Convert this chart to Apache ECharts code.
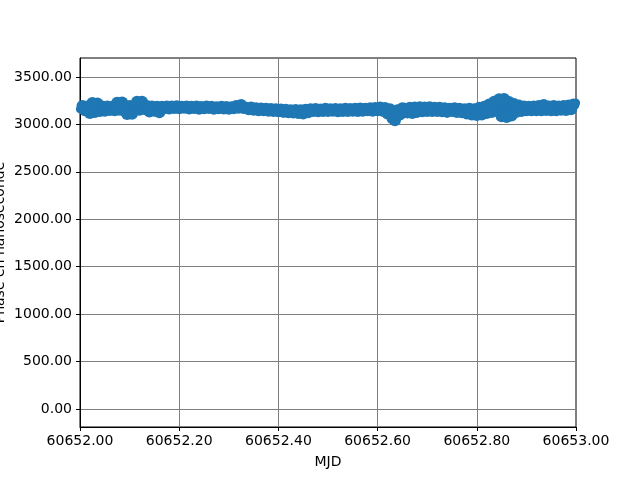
<!DOCTYPE html>
<html>
<head>
<meta charset="utf-8">
<script src="https://cdn.jsdelivr.net/npm/echarts@6/dist/echarts.min.js"></script>
<style>html,body{margin:0;padding:0;background:#fff}#c{width:640px;height:480px}</style>
</head>
<body>
<div id="c"></div>
<script>
var mjd = [
60652.000,60652.005,60652.010,60652.015,60652.020,60652.025,60652.030,60652.035,60652.040,60652.045,
60652.050,60652.055,60652.060,60652.065,60652.070,60652.075,60652.080,60652.085,60652.090,60652.095,
60652.100,60652.105,60652.110,60652.115,60652.120,60652.125,60652.130,60652.135,60652.140,60652.145,
60652.150,60652.155,60652.160,60652.165,60652.170,60652.175,60652.180,60652.185,60652.190,60652.195,
60652.200,60652.205,60652.210,60652.215,60652.220,60652.225,60652.230,60652.235,60652.240,60652.245,
60652.250,60652.255,60652.260,60652.265,60652.270,60652.275,60652.280,60652.285,60652.290,60652.295,
60652.300,60652.305,60652.310,60652.315,60652.320,60652.325,60652.330,60652.335,60652.340,60652.345,
60652.350,60652.355,60652.360,60652.365,60652.370,60652.375,60652.380,60652.385,60652.390,60652.395,
60652.400,60652.405,60652.410,60652.415,60652.420,60652.425,60652.430,60652.435,60652.440,60652.445,
60652.450,60652.455,60652.460,60652.465,60652.470,60652.475,60652.480,60652.485,60652.490,60652.495,
60652.500,60652.505,60652.510,60652.515,60652.520,60652.525,60652.530,60652.535,60652.540,60652.545,
60652.550,60652.555,60652.560,60652.565,60652.570,60652.575,60652.580,60652.585,60652.590,60652.595,
60652.600,60652.605,60652.610,60652.615,60652.620,60652.625,60652.630,60652.635,60652.640,60652.645,
60652.650,60652.655,60652.660,60652.665,60652.670,60652.675,60652.680,60652.685,60652.690,60652.695,
60652.700,60652.705,60652.710,60652.715,60652.720,60652.725,60652.730,60652.735,60652.740,60652.745,
60652.750,60652.755,60652.760,60652.765,60652.770,60652.775,60652.780,60652.785,60652.790,60652.795,
60652.800,60652.805,60652.810,60652.815,60652.820,60652.825,60652.830,60652.835,60652.840,60652.845,
60652.850,60652.855,60652.860,60652.865,60652.870,60652.875,60652.880,60652.885,60652.890,60652.895,
60652.900,60652.905,60652.910,60652.915,60652.920,60652.925,60652.930,60652.935,60652.940,60652.945,
60652.950,60652.955,60652.960,60652.965,60652.970,60652.975,60652.980,60652.985,60652.990,60652.995,
60653.000
];
var phase = [
3160,3195,3150,3190,3120,3225,3130,3220,3140,3190,
3145,3188,3152,3185,3148,3228,3155,3232,3145,3110,
3195,3112,3188,3238,3155,3240,3162,3195,3135,3190,
3145,3186,3128,3185,3170,3190,3168,3188,3172,3192,
3170,3185,3175,3190,3168,3186,3172,3188,3166,3184,
3170,3190,3172,3185,3165,3182,3170,3186,3168,3183,
3166,3180,3170,3195,3175,3205,3172,3175,3160,3178,
3155,3170,3150,3168,3148,3165,3145,3162,3140,3160,
3138,3158,3132,3155,3128,3150,3125,3152,3120,3150,
3115,3155,3128,3160,3140,3162,3138,3158,3142,3165,
3140,3160,3145,3163,3138,3160,3142,3165,3140,3162,
3145,3166,3142,3168,3145,3165,3148,3170,3145,3172,
3150,3178,3145,3172,3115,3160,3065,3045,3150,3105,
3170,3165,3125,3175,3120,3178,3132,3182,3138,3178,
3142,3182,3140,3175,3142,3176,3138,3170,3132,3165,
3140,3170,3130,3165,3128,3160,3115,3165,3105,3160,
3100,3175,3105,3185,3120,3210,3130,3240,3150,3265,
3085,3268,3078,3235,3095,3215,3132,3198,3142,3190,
3150,3185,3148,3190,3150,3195,3150,3205,3152,3190,
3148,3195,3150,3190,3155,3195,3152,3198,3160,3210,
3228
];
var xTicks = [60652.0, 60652.2, 60652.4, 60652.6, 60652.8, 60653.0];
var yTicks = [0, 500, 1000, 1500, 2000, 2500, 3000, 3500];

var last = mjd.length - 1;
var pts = mjd.map(function (m, i) {
  var item = {value: [m, phase[i]]};
  if (i === 0 || i === last) item.symbol = 'none';
  return item;
});
var chart = echarts.init(document.getElementById('c'), null, {renderer: 'canvas'});
var font = 'DejaVu Sans';
chart.setOption({
  animation: false,
  grid: {left: 80, right: 64, top: 58, bottom: 53, containLabel: false, outerBoundsMode: 'none',
    show: true, borderColor: '#000', borderWidth: 1, backgroundColor: 'transparent'},
  xAxis: {
    type: 'value', min: 60652, max: 60653,
    name: 'MJD', nameLocation: 'middle', nameGap: 28, nameMoveOverlap: false,
    nameTextStyle: {fontFamily: font, fontSize: 14, color: '#000'},
    axisLine: {show: true, onZero: false, lineStyle: {color: '#000', width: 1}},
    axisTick: {show: true, length: 4, inside: false, lineStyle: {color: '#000'}, customValues: xTicks},
    axisLabel: {fontFamily: font, fontSize: 14, color: '#000', margin: 7, customValues: xTicks,
      formatter: function (v) { return v.toFixed(2); }},
    splitLine: {show: true, lineStyle: {color: '#808080', width: 1}}
  },
  yAxis: {
    type: 'value', min: -190, max: 3700,
    name: 'Phase en nanoseconde', nameLocation: 'middle', nameGap: 73, nameRotate: 90, nameMoveOverlap: false,
    nameTextStyle: {fontFamily: font, fontSize: 14, color: '#000'},
    axisLine: {show: true, onZero: false, lineStyle: {color: '#000', width: 1}},
    axisTick: {show: true, length: 4, inside: false, lineStyle: {color: '#000'}, customValues: yTicks},
    axisLabel: {fontFamily: font, fontSize: 14, color: '#000', margin: 8, customValues: yTicks,
      formatter: function (v) { return v.toFixed(2); }},
    splitLine: {show: true, lineStyle: {color: '#808080', width: 1}}
  },
  series: [{
    type: 'line',
    data: pts,
    symbol: 'circle',
    symbolSize: 12,
    showAllSymbol: true,
    itemStyle: {color: '#1f77b4', borderWidth: 0},
    lineStyle: {color: '#1f77b4', width: 8, cap: 'round', join: 'round'},
    clip: true,
    silent: true
  }]
});
</script>
</body>
</html>
